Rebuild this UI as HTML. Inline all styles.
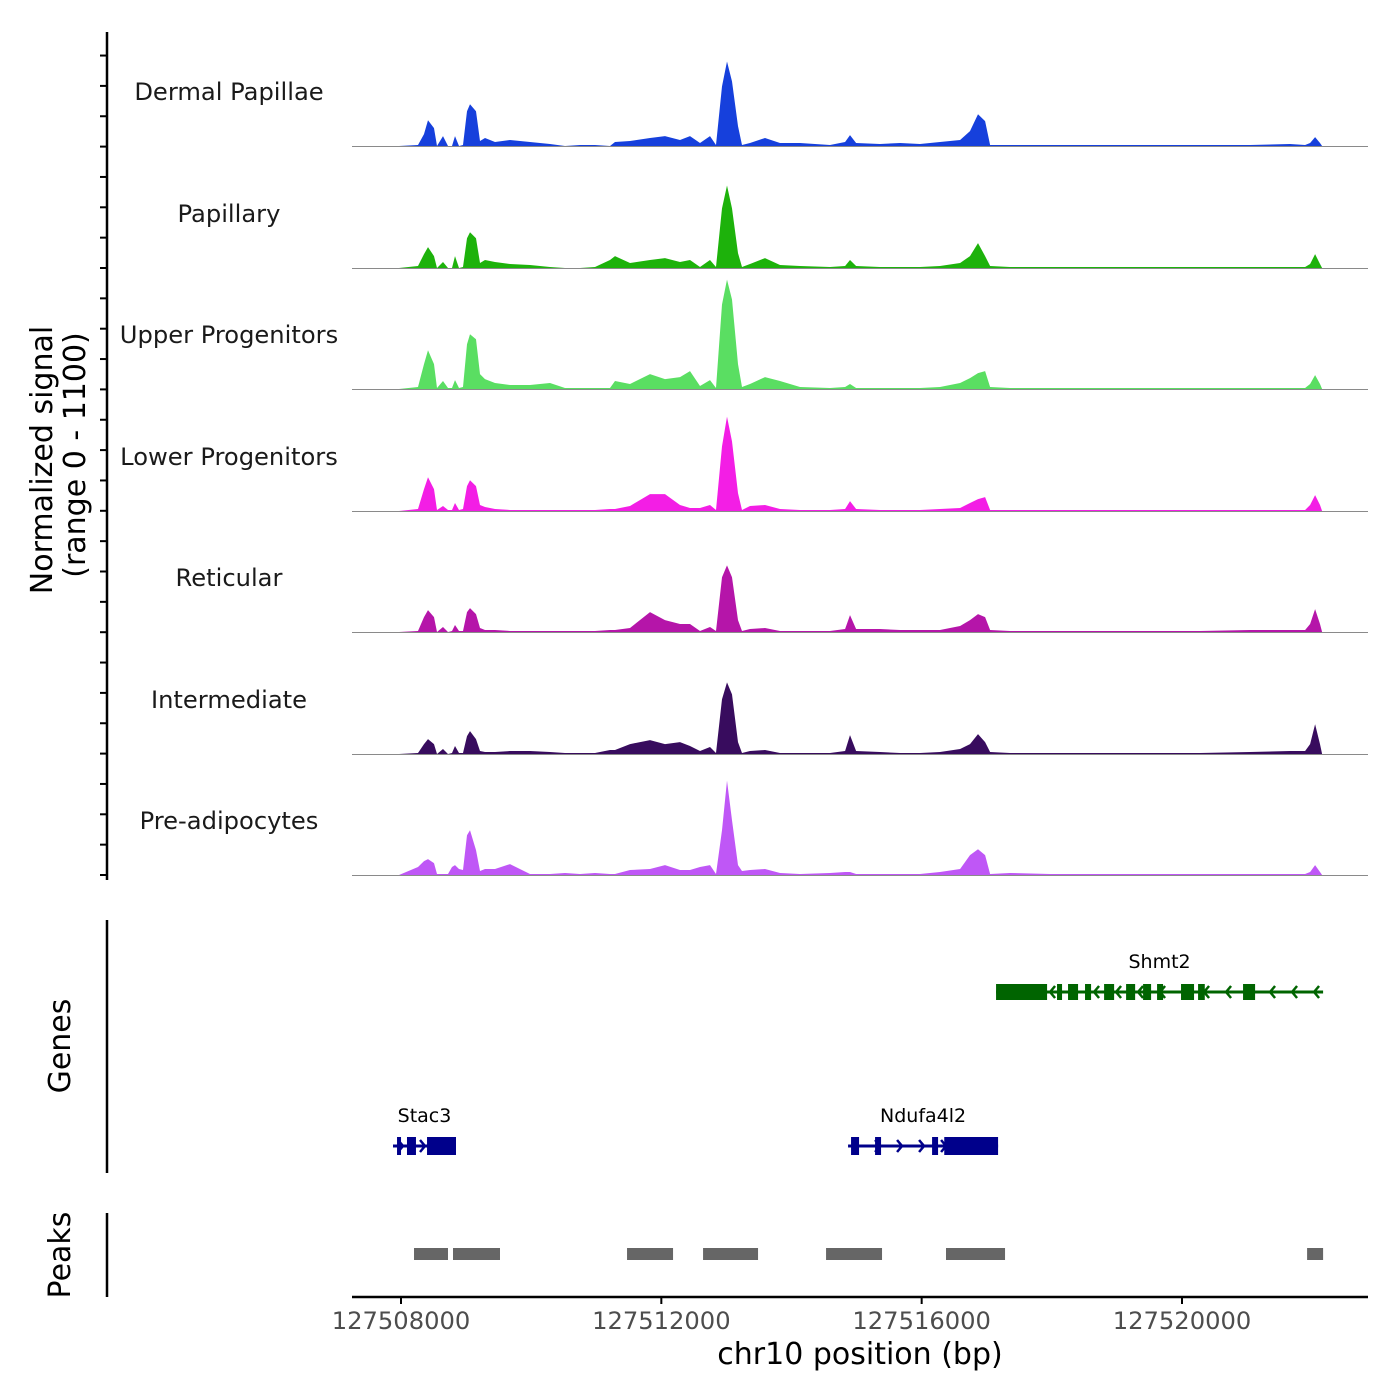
<!DOCTYPE html>
<html><head><meta charset="utf-8"><style>
html,body{margin:0;padding:0;background:#fff;}
svg{display:block;font-family:"DejaVu Sans","Liberation Sans",sans-serif;}
</style></head><body>
<svg id="chart" width="1400" height="1400" viewBox="0 0 1400 1400">
<g id="tracks"></g>
<g id="genes"></g>
<g id="peaks"></g>
<g id="axes"></g>
</svg>
<script>
const positions=[127507969,127508261,127508353,127508415,127508507,127508553,127508645,127508722,127508784,127508830,127508891,127508953,127509014,127509060,127509152,127509214,127509291,127509444,127509675,127509982,127510290,127510520,127510751,127510981,127511211,127511288,127511519,127511826,127512057,127512287,127512441,127512594,127512748,127512840,127512932,127513009,127513086,127513178,127513240,127513363,127513593,127513824,127514131,127514592,127514823,127514899,127514992,127515360,127515668,127515975,127516282,127516590,127516743,127516866,127516974,127517051,127517358,127517973,127518741,127519509,127520277,127521046,127521660,127521891,127521968,127522045,127522121,127522152];
const trackNames=["Dermal Papillae","Papillary","Upper Progenitors","Lower Progenitors","Reticular","Intermediate","Pre-adipocytes"];
const trackColors=["#1640dc","#1db20b","#5ade62","#f31ee5","#b515a9","#380c5e","#bf57f6"];
const dermalPapillae=[0,9,108,234,162,0,90,0,0,90,0,9,315,378,315,45,72,36,54,36,18,0,9,9,0,36,45,72,90,54,90,27,90,9,540,765,585,180,9,27,72,27,27,9,36,99,27,18,27,18,36,54,135,288,225,9,9,9,9,9,9,9,18,9,27,81,27,0];
const papillary=[0,18,126,189,108,0,54,0,0,108,0,9,270,324,270,45,72,54,36,27,9,0,0,9,72,108,45,72,90,54,72,9,72,9,540,747,540,135,9,36,90,27,18,9,18,72,18,9,9,9,18,45,108,225,108,18,9,9,9,9,9,9,9,9,36,126,36,0];
const upperProgenitors=[0,18,225,351,225,9,72,9,9,81,9,18,405,495,450,135,90,54,36,36,54,9,9,9,9,72,45,135,90,108,162,27,81,9,765,990,810,225,18,45,108,72,18,9,18,45,9,9,9,9,18,54,99,144,162,18,9,9,9,9,9,9,9,9,45,126,45,0];
const lowerProgenitors=[0,18,198,306,198,9,45,9,9,72,9,18,225,279,225,54,36,18,9,9,9,9,9,9,18,18,45,153,153,54,27,27,54,9,585,855,630,162,9,45,54,18,9,9,18,90,18,9,9,9,18,27,72,108,126,9,9,9,9,9,9,9,9,9,54,144,54,0];
const reticular=[0,9,135,198,135,0,45,0,9,63,9,9,180,216,162,36,18,18,9,9,9,9,9,9,18,18,36,180,108,72,72,9,45,9,495,603,495,108,9,27,36,9,9,9,27,153,27,27,18,18,18,54,108,162,135,18,9,9,9,9,9,18,18,18,72,207,72,0];
const intermediate=[0,9,90,135,90,0,45,0,9,72,9,9,162,207,135,27,18,18,27,27,18,9,9,9,36,36,90,126,90,108,72,27,63,9,495,648,540,108,9,27,36,9,9,9,27,171,27,18,9,9,18,45,90,180,108,18,9,9,9,9,9,18,27,27,90,270,90,0];
const preAdipocytes=[0,72,126,144,108,9,9,9,72,90,54,45,360,405,225,36,54,54,99,9,9,18,9,18,9,9,45,54,90,45,45,72,90,9,405,855,495,90,36,45,54,18,9,18,27,27,9,9,9,9,27,54,180,234,180,9,18,9,9,9,9,9,9,9,27,90,27,0];
const seriesValues=[dermalPapillae,papillary,upperProgenitors,lowerProgenitors,reticular,intermediate,preAdipocytes];
const yMax=1100;
const xTicks=[127508000,127512000,127516000,127520000];
const peakStarts=[127508200,127508799,127511473,127512641,127514531,127516374,127521922];
const peakEnds=[127508722,127509521,127512180,127513486,127515391,127517281,127522168];
const geneNames=["Shmt2","Stac3","Ndufa4l2"];
const geneStarts=[127517143,127507877,127514869];
const geneEnds=[127522168,127508845,127517174];
const geneStrands=["-","+","+"];
const geneExons=[
 [[127517143,127517927],[127518080,127518157],[127518249,127518403],[127518510,127518603],[127518803,127518957],[127519141,127519280],[127519402,127519525],[127519617,127519709],[127519985,127520185],[127520247,127520350],[127520938,127521123]],
 [[127507939,127508000],[127508092,127508230],[127508400,127508845]],
 [[127514915,127515038],[127515284,127515376],[127516160,127516252],[127516347,127517174]]
];

const NS="http://www.w3.org/2000/svg";
function mk(tag,attrs,parent){const e=document.createElementNS(NS,tag);for(const k in attrs)e.setAttribute(k,attrs[k]);parent.appendChild(e);return e;}
const X0=352,X1=1368;
function xScale(bp){return 401+(bp-127508000)*(1182-401)/12000;}
const baselines=[146,268,389,511,632,754,875];
const trackH=121.5;
function yScale(v,i){return baselines[i]-v/yMax*trackH;}

const tracks=document.getElementById('tracks');
seriesValues.forEach((vals,i)=>{
  const g=mk('g',{},tracks);
  
  
  let d='M'+xScale(positions[0])+','+baselines[i];
  vals.forEach((v,j)=>{d+=' L'+xScale(positions[j]).toFixed(1)+','+yScale(v,i).toFixed(1);});
  d+=' L'+xScale(positions[positions.length-1])+','+baselines[i]+' Z';
  const p=mk('path',{d:d,fill:trackColors[i]},g);
  
  
  const bl=mk('line',{x1:X0,x2:X1,y1:baselines[i]+0.5,y2:baselines[i]+0.5,stroke:'#8a8a8a','stroke-width':1},g);
  
  
  const t=mk('text',{x:229,y:baselines[i]-46,'text-anchor':'middle','font-size':24.2,fill:'#1a1a1a'},g);
  t.textContent=trackNames[i];
  
  
});

const genes=document.getElementById('genes');
const geneY=[992,1146,1146];
const geneCol=["#006400","#00008b","#00008b"];
geneNames.forEach((n,i)=>{
  const g=mk('g',{},genes);
  
  
  const y=geneY[i],c=geneCol[i];
  const xs=xScale(geneStarts[i]),xe=xScale(geneEnds[i]);
  mk('line',{x1:xs,x2:xe,y1:y,y2:y,stroke:c,'stroke-width':3},g);
  const step=22;
  for(let x=xs+10;x<xe-4;x+=step){
    const dx=geneStrands[i]==='+'?-5:5;
    mk('path',{d:`M${x+dx},${y-6} L${x},${y} L${x+dx},${y+6}`,stroke:c,'stroke-width':2.5,fill:'none'},g);
  }
  const eh=i===0?16:18;
  geneExons[i].forEach(e=>{
    const r=mk('rect',{x:xScale(e[0]),y:y-eh/2,width:Math.max(4,xScale(e[1])-xScale(e[0])),height:eh,fill:c},g);
    
    
  });
  const t=mk('text',{x:(xs+xe)/2,y:y-24,'text-anchor':'middle','font-size':19,fill:'#000'},g);
  t.textContent=n;
  
  
});

const peaks=document.getElementById('peaks');
peakStarts.forEach((s,i)=>{
  const r=mk('rect',{x:xScale(s),y:1248,width:xScale(peakEnds[i])-xScale(s),height:12,fill:'#666666'},peaks);
  
  
});

const axes=document.getElementById('axes');
function line(x1,y1,x2,y2,w,name){const l=mk('line',{x1:x1,y1:y1,x2:x2,y2:y2,stroke:'#000','stroke-width':w},axes);return l;}
line(107,32,107,880,2.5,'signal-y-axis');
for(let k=0;k<=28;k++){const y=875-k*30.35;if(y<40)break;line(100,y,107,y,2,'y-tick');}
line(107,920,107,1173,2.5,'genes-y-axis');
line(107,1213,107,1297,2.5,'peaks-y-axis');
line(X0,1297,X1,1297,2.5,'x-axis');
xTicks.forEach(v=>{
  const x=xScale(v);
  line(x,1297,x,1304,2,'x-tick');
  const t=mk('text',{x:x,y:1329,'text-anchor':'middle','font-size':24.2,fill:'#4d4d4d'},axes);
  t.textContent=String(v);
  
  
});
function txt(s,x,y,size,rot,name){const t=mk('text',{x:x,y:y,'text-anchor':'middle','font-size':size,fill:'#000',transform:rot?`rotate(-90 ${x} ${y})`:''},axes);t.textContent=s;}
txt('chr10 position (bp)',860,1364,30,false,'x-axis-title');
txt('Normalized signal',52,460,30,true,'y-axis-title');
txt('(range 0 - 1100)',85,455,30,true,'y-axis-range');
txt('Genes',70,1046,30,true,'genes-label');
txt('Peaks',70,1255,30,true,'peaks-label');
</script>
</body></html>
